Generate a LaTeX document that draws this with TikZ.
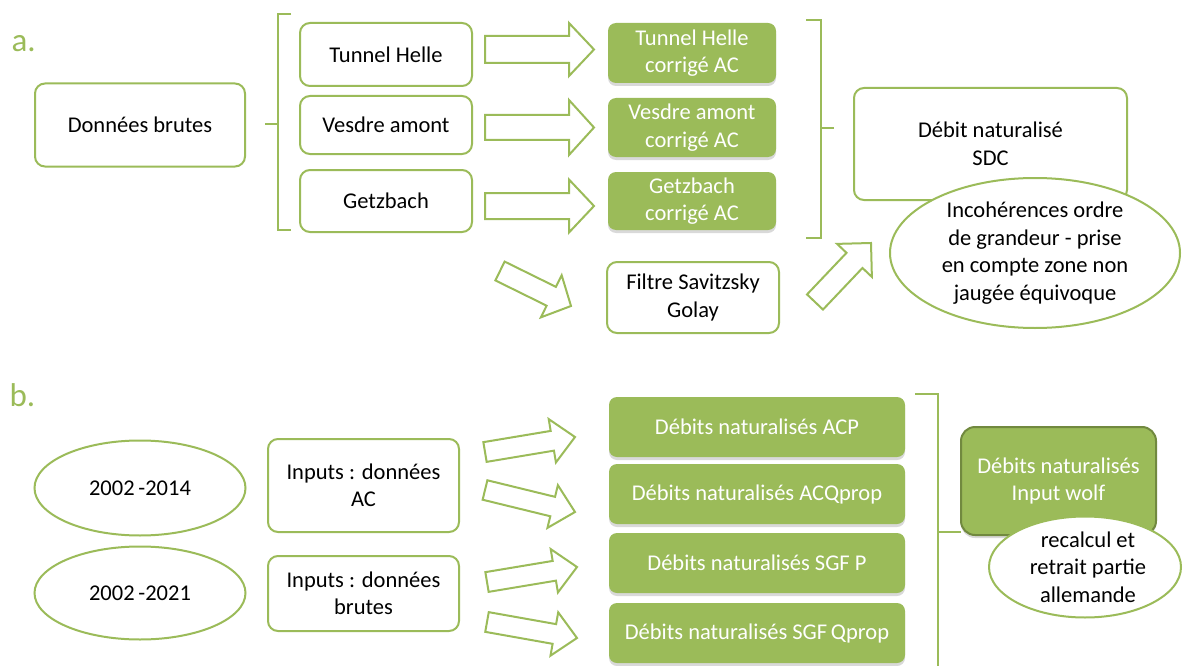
\documentclass[tikz,border=0pt]{standalone}
\usepackage{fontspec}
\setmainfont{Carlito}
\usetikzlibrary{calc,shapes.geometric,shadows}

\definecolor{olive}{HTML}{9BBB59}
\definecolor{darkolive}{HTML}{71893F}

% hollow block arrow from tail centre #1 to tip #2;
% #3 half shaft width, #4 half head width, #5 head length
\newcommand\fatarrow[5]{%
  \coordinate (#1h) at ($(#2)!#5!(#1)$);
  \draw[arrowline]
    ($(#1)!#3!90:(#2)$) -- ($(#1h)!#3!-90:(#1)$) -- ($(#1h)!#4!-90:(#1)$)
    -- (#2) -- ($(#1h)!#4!90:(#1)$) -- ($(#1h)!#3!90:(#1)$)
    -- ($(#1)!#3!-90:(#2)$) -- cycle;}

\begin{document}
\begin{tikzpicture}[x=1pt,y=-1pt,
  font=\fontsize{22.5}{27.5}\selectfont,
  whitebox/.style={draw=olive, line width=2pt, rounded corners=10pt, fill=white,
    align=center, inner sep=0pt},
  greenbox/.style={fill=olive, rounded corners=8pt, text=white, align=center,
    inner sep=0pt, drop shadow={opacity=0.3, shadow xshift=0pt, shadow yshift=-3pt}},
  ovalbox/.style={ellipse, draw=olive, line width=2pt, fill=white, align=center,
    inner sep=0pt},
  arrowline/.style={draw=olive, line width=2pt, fill=white, line join=miter},
  bracket/.style={draw=olive, line width=2.4pt},
  partlabel/.style={text=olive, font=\fontsize{33}{36}\selectfont, anchor=west}]
\useasboundingbox (0,0) rectangle (1183,666);

% ---------- part a ----------
\node[partlabel] (la) at (8,44) {a.};

\node[whitebox, minimum width=210, minimum height=83] (raw) at (140,125) {Données brutes};

\draw[bracket] (291,14) -- (278,14) -- (278,230) -- (291,230);
\draw[bracket] (278,124) -- (265,124);

\node[whitebox, minimum width=172, minimum height=63] (th) at (386,54.5) {Tunnel Helle};
\node[whitebox, minimum width=172, minimum height=58] (va) at (386,125) {Vesdre amont};
\node[whitebox, minimum width=172, minimum height=62] (gz) at (386,201) {Getzbach};

\coordinate (t1) at (485,49.5);  \coordinate (p1) at (594,49.5);
\coordinate (t2) at (485,127.5); \coordinate (p2) at (594,127.5);
\coordinate (t3) at (485,206);   \coordinate (p3) at (594,206);
\fatarrow{t1}{p1}{13.5pt}{26.5pt}{25pt}
\fatarrow{t2}{p2}{12.5pt}{27.5pt}{25pt}
\fatarrow{t3}{p3}{13pt}{26.5pt}{25pt}

\node[greenbox, minimum width=168, minimum height=60] (thc) at (692,53) {Tunnel Helle\\corrigé AC};
\node[greenbox, minimum width=168, minimum height=59] (vac) at (692,127.5) {Vesdre amont\\corrigé AC};
\node[greenbox, minimum width=168, minimum height=58] (gzc) at (692,201) {Getzbach\\corrigé AC};

\draw[bracket] (806,20) -- (821,20) -- (821,238) -- (806,238);
\draw[bracket] (821,128) -- (834,128);

\coordinate (t4) at (500,271); \coordinate (p4) at (571,306);
\fatarrow{t4}{p4}{10.5pt}{23.5pt}{22pt}

\node[whitebox, minimum width=172, minimum height=71] (sg) at (693,297.5) {Filtre Savitzsky\\Golay};

\coordinate (t5) at (815,302); \coordinate (p5) at (871,243);
\fatarrow{t5}{p5}{11pt}{24pt}{24pt}

\node[whitebox, minimum width=273, minimum height=112] (sdc) at (990.5,144) {Débit naturalisé\\SDC};
\node[ovalbox, minimum width=290, minimum height=150, inner ysep=-4pt] (inc) at (1035,253)
  {Incohérences ordre\\de grandeur - prise\\en compte zone non\\jaugée équivoque};

% ---------- part b ----------
\node[partlabel] (lb) at (6,395) {b.};

\node[ovalbox, minimum width=211, minimum height=95] (e1) at (140,488) {2002\,-2014};
\node[ovalbox, minimum width=211, minimum height=93] (e2) at (140,593) {2002\,-2021};

\node[whitebox, minimum width=191, minimum height=93] (in1) at (363.5,485.5) {Inputs : données\\AC};
\node[whitebox, minimum width=191, minimum height=75] (in2) at (363.5,593.5) {Inputs : données\\brutes};

\coordinate (t6) at (485,452); \coordinate (p6) at (575,437);
\coordinate (t7) at (485,490); \coordinate (p7) at (575,512);
\coordinate (t8) at (487,582); \coordinate (p8) at (577,567);
\coordinate (t9) at (487,622); \coordinate (p9) at (577,638);
\fatarrow{t6}{p6}{10pt}{22pt}{23pt}
\fatarrow{t7}{p7}{10pt}{22pt}{23pt}
\fatarrow{t8}{p8}{10pt}{22pt}{23pt}
\fatarrow{t9}{p9}{10pt}{22pt}{23pt}

\node[greenbox, minimum width=296, minimum height=60] (acp) at (757,427) {Débits naturalisés ACP};
\node[greenbox, minimum width=296, minimum height=60] (acq) at (757,494) {Débits naturalisés ACQprop};
\node[greenbox, minimum width=296, minimum height=60] (sgfp) at (757,563) {Débits naturalisés SGF P};
\node[greenbox, minimum width=296, minimum height=60] (sgfq) at (757,633) {Débits naturalisés SGF\,Qprop};

\draw[bracket] (915,394) -- (938,394) -- (938,680);
\draw[bracket] (938,532) -- (961,532);

\node[greenbox, draw=darkolive, line width=2pt, drop shadow={opacity=0}, minimum width=195,
  minimum height=108, rounded corners=14pt] (wolf) at (1058.5,481) {Débits naturalisés\\Input wolf};
\node[ovalbox, minimum width=192, minimum height=101, inner ysep=-8pt] (rec) at (1085,567)
  {\hspace*{6pt}recalcul et\\\hspace*{6pt}retrait partie\\\hspace*{6pt}allemande};
\end{tikzpicture}
\end{document}
